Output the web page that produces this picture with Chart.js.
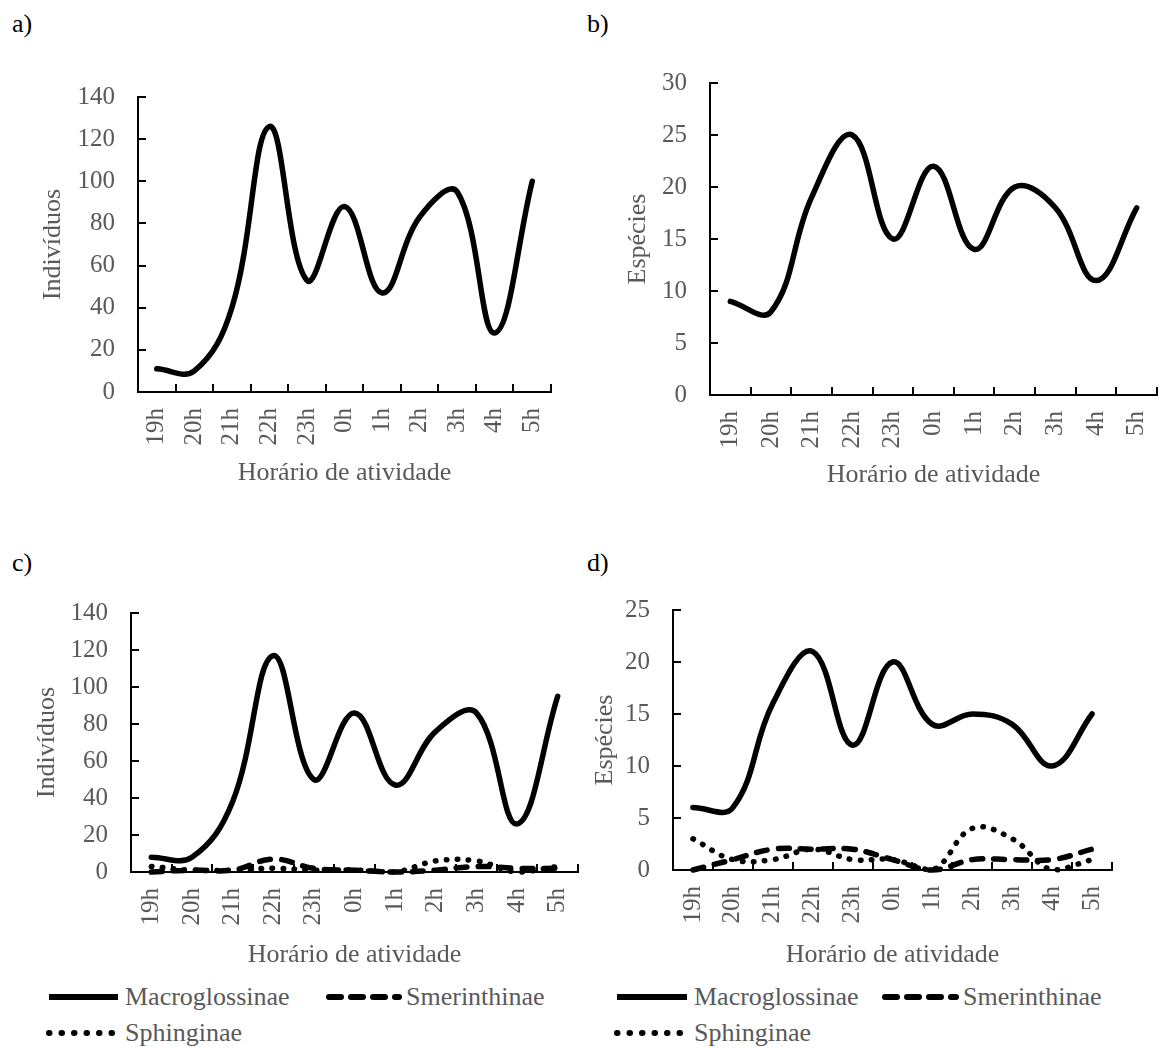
<!DOCTYPE html>
<html>
<head>
<meta charset="utf-8">
<script src="https://cdn.jsdelivr.net/npm/chart.js@4.4.1/dist/chart.umd.min.js"></script>
<style>
  body { margin: 0; background: #fff; width: 1163px; height: 1048px; position: relative; overflow: hidden;
         font-family: "Liberation Serif", "Times New Roman", serif; }
  canvas { position: absolute; }
  .tag { position: absolute; font-size: 26px; line-height: 1; color: #000; }
  .leg { position: absolute; height: 30px; display: flex; align-items: center; font-size: 26px; color: #595959; white-space: nowrap; }
  .leg svg { display: block; margin-right: 4px; }
</style>
</head>
<body>
<div class="tag" style="left:12px;top:11px">a)</div>
<div class="tag" style="left:587px;top:11px">b)</div>
<div class="tag" style="left:12px;top:550px">c)</div>
<div class="tag" style="left:587px;top:550px">d)</div>

<canvas id="chartA" width="580" height="440" style="left:0;top:60px"></canvas>
<canvas id="chartB" width="583" height="440" style="left:580px;top:60px"></canvas>
<canvas id="chartC" width="580" height="400" style="left:0;top:580px"></canvas>
<canvas id="chartD" width="583" height="400" style="left:580px;top:580px"></canvas>

<div id="legendC"></div>
<div id="legendD"></div>

<script>
// categories
const hours = ["19h", "20h", "21h", "22h", "23h", "0h", "1h", "2h", "3h", "4h", "5h"];

// a) individuos (total)
const indivTotal = [11, 10, 40, 126, 53, 88, 47, 83, 95, 28, 100];
// b) especies (total)
const especiesTotal = [9, 8, 19, 25, 15, 22, 14, 20, 18, 11, 18];

// c) individuos por subfamilia
const indivMacro = [8, 8, 38, 117, 50, 86, 47, 76, 86, 26, 95];
const indivSmer = [0, 1, 1, 7, 2, 1, 0, 1, 3, 2, 2];
const indivSphin = [3, 1, 1, 2, 1, 1, 0, 6, 6, 0, 3];

// d) especies por subfamilia
const espMacro = [6, 6, 16, 21, 12, 20, 14, 15, 14, 10, 15];
const espSmer = [0, 1, 2, 2, 2, 1, 0, 1, 1, 1, 2];
const espSphin = [3, 1, 1, 2, 1, 1, 0, 4, 3, 0, 1];

const subfamilies = ["Macroglossinae", "Smerinthinae", "Sphinginae"];

const GREY = "#595959";
const FONT = "'Liberation Serif', 'Times New Roman', serif";

const dashes = {
  solid: [],
  dashed: [11, 11],
  dotted: [0.5, 10.5],
};

Chart.defaults.font.family = FONT;
Chart.defaults.color = GREY;

function series(label, data, style) {
  return {
    label: label,
    data: data,
    borderColor: "#000",
    borderWidth: 5.5,
    borderDash: dashes[style],
    borderCapStyle: "round",
    borderJoinStyle: "round",
    pointRadius: 0,
    tension: 0.4,
    fill: false,
    clip: 10,
  };
}

// fixed scale sizes so the plot area lands where the original has it
function noPad(s) {
  s.paddingLeft = 0;
  s.paddingRight = 0;
  s.paddingTop = 0;
  s.paddingBottom = 0;
}

function makeChart(id, box, datasets) {
  return new Chart(document.getElementById(id), {
    type: "line",
    data: { labels: hours, datasets: datasets },
    options: {
      responsive: false,
      animation: false,
      devicePixelRatio: 1,
      layout: {
        autoPadding: false,
        padding: { top: box.top, right: box.right, bottom: 0, left: 0 },
      },
      plugins: { legend: { display: false }, tooltip: { enabled: false } },
      scales: {
        x: {
          offset: true,
          grid: { offset: true, drawOnChartArea: false, drawTicks: true, tickLength: -8, color: "#000", lineWidth: 2 },
          border: { color: "#000", width: 2 },
          ticks: { autoSkip: false, minRotation: 90, maxRotation: 90, padding: 24, color: GREY, font: { size: 25 } },
          title: { display: true, text: "Horário de atividade", color: GREY, font: { size: 26 }, padding: { top: 0, bottom: box.titleB } },
          afterFit: (s) => { s.height = box.xh; noPad(s); },
        },
        y: {
          min: 0,
          max: box.max,
          grid: { drawOnChartArea: false, drawTicks: true, tickLength: -8, color: "#000", lineWidth: 2 },
          border: { color: "#000", width: 2 },
          ticks: { stepSize: box.step, padding: 31, color: GREY, font: { size: 25 } },
          title: { display: true, text: box.yTitle, color: GREY, font: { size: 26 }, padding: { top: box.titleL, bottom: 0 } },
          afterFit: (s) => { s.width = box.yw; noPad(s); },
        },
      },
    },
  });
}

// a)
makeChart("chartA",
  { top: 37, right: 29, xh: 108, yw: 138, titleB: 11, titleL: 38, max: 140, step: 20, yTitle: "Indivíduos" },
  [series("Total", indivTotal, "solid")]);

// b)
makeChart("chartB",
  { top: 23, right: 6, xh: 105, yw: 130, titleB: 9, titleL: 43, max: 30, step: 5, yTitle: "Espécies" },
  [series("Total", especiesTotal, "solid")]);

// c)
makeChart("chartC",
  { top: 33, right: 2, xh: 108, yw: 131, titleB: 9, titleL: 32, max: 140, step: 20, yTitle: "Indivíduos" },
  [
    series(subfamilies[0], indivMacro, "solid"),
    series(subfamilies[1], indivSmer, "dashed"),
    series(subfamilies[2], indivSphin, "dotted"),
  ]);

// d)
makeChart("chartD",
  { top: 30, right: 51, xh: 110, yw: 93, titleB: 9, titleL: 10, max: 25, step: 5, yTitle: "Espécies" },
  [
    series(subfamilies[0], espMacro, "solid"),
    series(subfamilies[1], espSmer, "dashed"),
    series(subfamilies[2], espSphin, "dotted"),
  ]);

// legends (Excel style, html)
function legendSymbol(style, w) {
  let dash = "";
  let cap = "butt";
  if (style === "dashed") { dash = 'stroke-dasharray="12 10"'; cap = "round"; }
  if (style === "dotted") { dash = 'stroke-dasharray="0.5 12"'; cap = "round"; }
  return '<svg width="' + w + '" height="30"><line x1="3" y1="15" x2="' + (w - 3) + '" y2="15" stroke="#000" stroke-width="6" stroke-linecap="' + cap + '" ' + dash + "/></svg>";
}

function legendItem(parent, x, y, style, w, text) {
  const d = document.createElement("div");
  d.className = "leg";
  d.style.left = x + "px";
  d.style.top = y - 15 + "px";
  d.innerHTML = legendSymbol(style, w) + "<span>" + text + "</span>";
  document.getElementById(parent).appendChild(d);
}

legendItem("legendC", 46, 997, "solid", 75, subfamilies[0]);
legendItem("legendC", 326, 997, "dashed", 76, subfamilies[1]);
legendItem("legendC", 46, 1033, "dotted", 75, subfamilies[2]);

legendItem("legendD", 614, 997, "solid", 76, subfamilies[0]);
legendItem("legendD", 882, 997, "dashed", 77, subfamilies[1]);
legendItem("legendD", 614, 1033, "dotted", 76, subfamilies[2]);
</script>
</body>
</html>
